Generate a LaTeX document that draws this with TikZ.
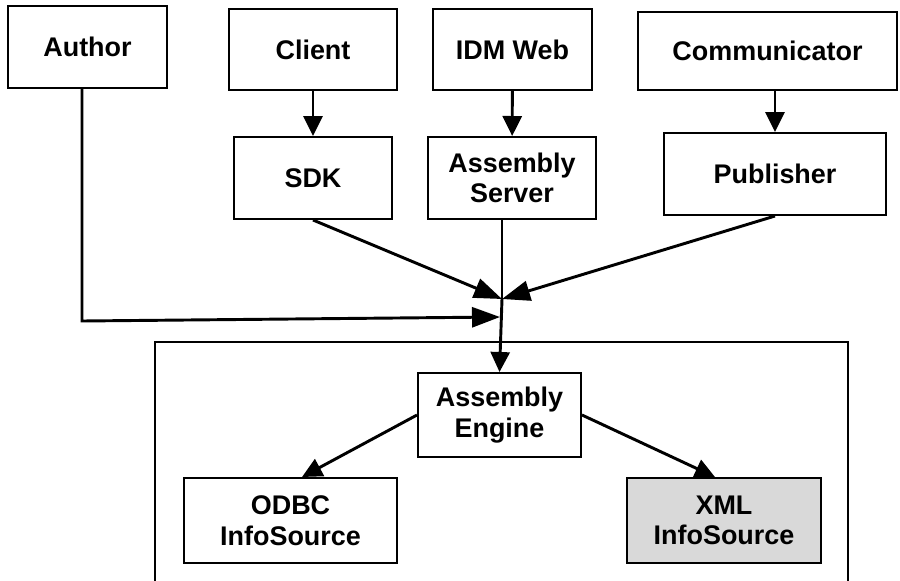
\documentclass[tikz,border=0pt]{standalone}
\usepackage{fontspec}
\setmainfont{Liberation Sans}
\usetikzlibrary{arrows.meta,calc}

\begin{document}
\begin{tikzpicture}[x=0.03cm,y=-0.03cm,
    box/.style={draw, line width=1.7pt, inner sep=0pt, align=center,
        font=\fontsize{23}{26}\selectfont\bfseries},
    arr/.style={line width=2.5pt, -{Triangle[length=0.6cm,width=0.57cm]}},
    jarr/.style={line width=2.5pt, -{Triangle[length=0.84cm,width=0.6cm]}}]
    \clip (0,0) rectangle (900,580);
    \useasboundingbox (0,0) rectangle (900,580);

    % Draw outer frame (runs off the bottom)
    \draw[line width=1.3pt] (155,600) -- (155,342) -- (848,342) -- (848,600);

    % Top row
    \node[box, minimum width=4.77cm, minimum height=2.46cm] (author) at (87.5,47) {Author};
    \node[box, minimum width=5.04cm, minimum height=2.43cm] (client) at (313,49.5) {Client};
    \node[box, minimum width=4.77cm, minimum height=2.43cm] (idm) at (512.5,49.5) {IDM Web};
    \node[box, minimum width=7.77cm, minimum height=2.34cm] (comm) at (767.5,51) {Communicator};

    % Second row
    \node[box, minimum width=4.74cm, minimum height=2.46cm] (sdk) at (313,178) {SDK};
    \node[box, minimum width=5.04cm, minimum height=2.46cm] (server) at (512,178) {Assembly\\Server};
    \node[box, minimum width=6.66cm, minimum height=2.46cm] (pub) at (775,174) {Publisher};

    % Inside the frame
    \node[box, minimum width=4.89cm, minimum height=2.52cm] (engine) at (499.5,415) {Assembly\\Engine};
    \node[box, minimum width=6.39cm, minimum height=2.55cm] (odbc) at (290.5,520.5) {ODBC\\InfoSource};
    \node[box, fill=gray!30, minimum width=5.82cm, minimum height=2.55cm] (xml) at (724,520.5) {XML\\InfoSource};

    % Arrows down to the second row
    \draw[arr] (client) -- (sdk);
    \draw[arr] (idm) -- (server);
    \draw[arr] (pub.north |- comm.south) -- (pub.north);

    % Everything meets at one point
    \coordinate (join) at (502,299);
    \coordinate (bend) at (82,321);
    \coordinate (authtip) at (500,317);
    \draw[jarr] (sdk.south) -- (join);
    \draw[jarr] (pub.south) -- (join);
    \draw[line width=2.5pt] (join |- server.south) -- (join);
    \draw[jarr] (bend |- author.south) -- (bend) -- (authtip);
    \draw[arr] (join) -- (engine.north);

    % Engine to the sources
    \draw[arr] (engine.west) -- ($(odbc.north)+(11.5,0)$);
    \draw[arr] (engine.east) -- ($(xml.north)+(-9,0)$);
\end{tikzpicture}
\end{document}
